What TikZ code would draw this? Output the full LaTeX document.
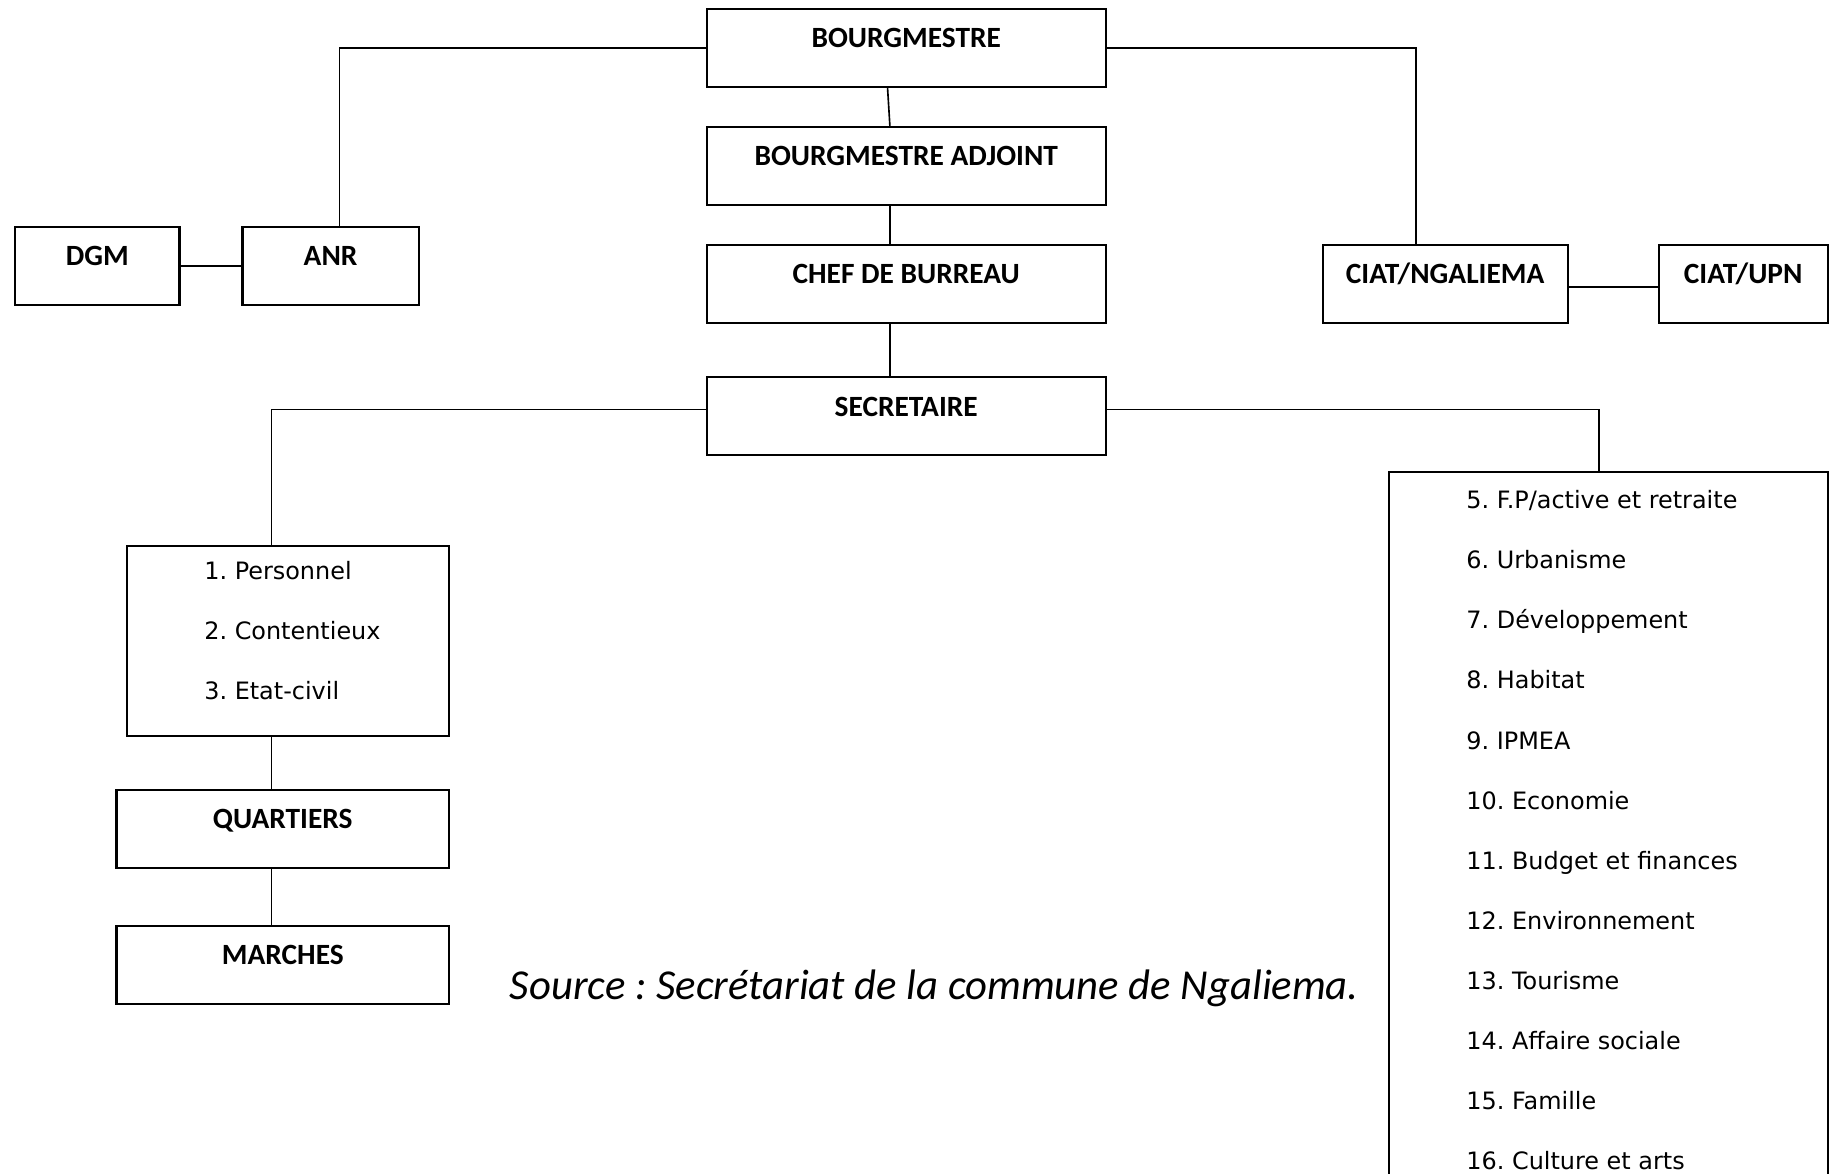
\documentclass[tikz,border=0pt]{standalone}
\usepackage{fontspec}
\setmainfont{Carlito}
\newfontfamily\listfont{DejaVu Sans}
\frenchspacing
\begin{document}
\frenchspacing
\begin{tikzpicture}[x=1pt,y=-1pt,
  box/.style={draw, line width=1.8pt, inner xsep=0pt, inner ysep=0pt, anchor=north west,
    text height=33.3pt, text depth=33.7pt, font=\fontsize{25.2}{30}\selectfont\bfseries},
  frame/.style={draw, line width=1.8pt, inner sep=0pt, anchor=north west},
  items/.style={anchor=base west, align=left, inner sep=0pt, font=\listfont\fontsize{20.5}{51.55}\selectfont},
  conn/.style={line width=1.4pt}]
\clip (0,0) rectangle (1568,1006);
\fill[white] (0,0) rectangle (1568,1006);
% boxes
\node[box, minimum width=342pt] (bm) at (605,6.6) {BOURGMESTRE};
\node[box, minimum width=342pt] (adj) at (605,108) {BOURGMESTRE ADJOINT};
\node[box, minimum width=342pt] (chef) at (605,209) {CHEF DE BURREAU};
\node[box, minimum width=342pt] (sec) at (605,322.5) {SECRETAIRE};
\node[box, minimum width=141pt] (dgm) at (12,193.5) {DGM};
\node[box, minimum width=151pt] (anr) at (207,193.5) {ANR};
\node[box, minimum width=210pt] (ciat) at (1133,209) {CIAT/NGALIEMA};
\node[box, minimum width=145pt] (upn) at (1421,209) {CIAT/UPN};
\node[box, minimum width=285pt] (qrt) at (99,676) {QUARTIERS};
\node[box, minimum width=285pt] (mar) at (99,792.7) {MARCHES};
\node[frame, minimum width=276pt, minimum height=163pt] (lst) at (108,467) {};
\node[frame, minimum width=376pt, minimum height=700pt] (rlst) at (1190,404) {};
% list texts (anchored at the baseline of their last line)
\node[items] (lsttxt) at (175,600) {1. Personnel\\2. Contentieux\\3. Etat-civil};
\node[items] (rlsttxt) at (1257,1003) {5. F.P/active et retraite\\6. Urbanisme\\7. Développement\\8. Habitat\\9. IPMEA\\10. Economie\\11. Budget et finances\\12. Environnement\\13. Tourisme\\14. Affaire sociale\\15. Famille\\16. Culture et arts};
% source
\node[anchor=base west, inner sep=0pt, font=\fontsize{36.6}{42}\selectfont\itshape] (src) at (437,857) {Source : Secrétariat de la commune de Ngaliema.};
% connectors
\draw[conn] (bm.west) -| ([xshift=7.5pt]anr.north);
\draw[conn] (bm.east) -| ([xshift=-25pt]ciat.north);
\draw[conn] ([xshift=-16pt]bm.south) -- ([xshift=-14pt]adj.north);
\draw[conn] ([xshift=-14pt]adj.south) -- ([xshift=-14pt]chef.north);
\draw[conn] ([xshift=-14pt]chef.south) -- ([xshift=-14pt]sec.north);
\draw[conn] (dgm.east) -- (anr.west);
\draw[conn] ([yshift=-2.5pt]ciat.east) -- ([yshift=-2.5pt]upn.west);
\draw[conn] ([yshift=5.7pt]sec.west) -| ([xshift=-14pt]lst.north);
\draw[conn] ([yshift=5.7pt]sec.east) -| ([xshift=-8pt]rlst.north);
\draw[conn] ([xshift=-14pt]lst.south) -- ([xshift=-9.5pt]qrt.north);
\draw[conn] ([xshift=-9.5pt]qrt.south) -- ([xshift=-9.5pt]mar.north);
\end{tikzpicture}
\end{document}
